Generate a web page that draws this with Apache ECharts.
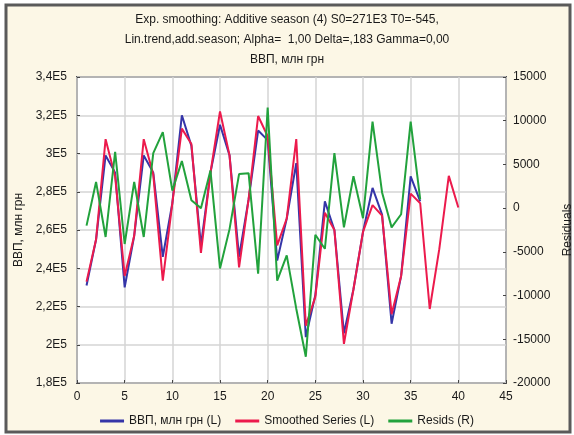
<!DOCTYPE html>
<html>
<head>
<meta charset="utf-8">
<script src="https://cdn.jsdelivr.net/npm/echarts@6/dist/echarts.min.js"></script>
<style>
html,body{margin:0;padding:0;background:#fff;}
#c{width:574px;height:435px;}
</style>
</head>
<body>
<div id="c"></div>
<script>
const titleLines = [
  'Exp. smoothing: Additive season (4) S0=271E3 T0=-545,',
  'Lin.trend,add.season; Alpha=  1,00 Delta=,183 Gamma=0,00',
  'ВВП, млн грн'
];
const seriesNames = ['ВВП, млн грн (L)', 'Smoothed Series (L)', 'Resids (R)'];
const leftAxisName = 'ВВП, млн грн';
const rightAxisName = 'Residuals';
const leftTicks = ['1,8E5','2E5','2,2E5','2,4E5','2,6E5','2,8E5','3E5','3,2E5','3,4E5'];

const gdp = [231000,255000,299000,290000,230000,257000,299000,290000,246000,274000,
  320000,304000,252000,290000,315000,299000,246000,276000,312000,307000,
  244000,266000,295000,204000,226000,275000,260000,206000,229000,259000,
  282000,268000,211000,236000,288000,275000];
const smoothed = [233000,255000,307500,288000,236000,257000,307500,289000,233500,274000,
  313000,305000,248000,290000,322000,299000,240500,276000,319600,309000,
  252000,266000,307500,210000,225000,269000,260000,200500,229000,259000,
  273000,267500,216000,236000,279000,274000,218700,250000,288300,271800];
const resids = [-2000,3000,-3300,6450,-4100,3000,-3300,6300,8700,2000,
  5400,900,0,4300,-6900,-2400,3900,4000,-7500,11500,
  -8300,-5400,-11500,-17000,-3050,-4650,6300,-2200,3650,-1150,
  9900,1800,-2200,-700,9900,1000];

const toPairs = arr => arr.map((v, i) => [i + 1, v]);

const chart = echarts.init(document.getElementById('c'), null, {renderer: 'canvas'});
const font = "'Liberation Sans', Arial, sans-serif";
const txt = '#1a1a1a';

chart.setOption({
  backgroundColor: '#fff',
  animation: false,
  graphic: [{
    type: 'rect', z: -10, silent: true,
    shape: {x: 6, y: 5, width: 564, height: 427},
    style: {fill: '#fcf7e6', stroke: '#5a5a5a', lineWidth: 3}
  }],
  title: titleLines.map((t, i) => ({
    text: t, left: 'center', top: 9 + i * 20,
    textStyle: {fontFamily: font, fontSize: 12, fontWeight: 'normal', color: txt}
  })),
  legend: {
    bottom: 3, left: 'center',
    icon: 'rect', itemWidth: 24, itemHeight: 3, itemGap: 14,
    textStyle: {fontFamily: font, fontSize: 12, color: txt},
    data: seriesNames
  },
  grid: {
    left: 77, top: 77, width: 429, height: 306,
    outerBoundsMode: 'none', containLabel: false,
    show: true, backgroundColor: '#fff', borderColor: '#555', borderWidth: 2
  },
  xAxis: {
    type: 'value', min: 0, max: 45, interval: 5,
    axisLine: {show: false, onZero: false},
    axisTick: {show: true, inside: true, length: 3, lineStyle: {color: '#444'}},
    axisLabel: {fontFamily: font, fontSize: 12, color: txt, margin: 8},
    splitLine: {show: true, lineStyle: {color: '#d4d4d4', width: 1.5}}
  },
  yAxis: [{
    type: 'value', min: 180000, max: 340000, interval: 20000,
    name: leftAxisName, nameLocation: 'middle', nameGap: 52, nameRotate: 90,
    nameTextStyle: {fontFamily: font, fontSize: 12, color: txt},
    axisLine: {show: false},
    axisTick: {show: true, inside: true, length: 3, lineStyle: {color: '#444'}},
    axisLabel: {fontFamily: font, fontSize: 12, color: txt, margin: 10,
      formatter: v => leftTicks[Math.round((v - 180000) / 20000)]},
    splitLine: {show: true, lineStyle: {color: '#d4d4d4', width: 1.5}}
  }, {
    type: 'value', min: -20000, max: 15000, interval: 5000, position: 'right',
    name: rightAxisName, nameLocation: 'middle', nameGap: 52, nameRotate: 90,
    nameTextStyle: {fontFamily: font, fontSize: 12, color: txt},
    axisLine: {show: false},
    axisTick: {show: true, inside: true, length: 3, lineStyle: {color: '#444'}},
    axisLabel: {fontFamily: font, fontSize: 12, color: txt, margin: 7,
      formatter: v => String(v)},
    splitLine: {show: false}
  }],
  series: [{
    name: seriesNames[0], type: 'line', yAxisIndex: 0, data: toPairs(gdp),
    symbol: 'none', lineStyle: {color: '#3535a8', width: 2}, itemStyle: {color: '#3535a8'}
  }, {
    name: seriesNames[1], type: 'line', yAxisIndex: 0, data: toPairs(smoothed),
    symbol: 'none', lineStyle: {color: '#ec1a4c', width: 2}, itemStyle: {color: '#ec1a4c'}
  }, {
    name: seriesNames[2], type: 'line', yAxisIndex: 1, data: toPairs(resids),
    symbol: 'none', lineStyle: {color: '#22a23c', width: 2}, itemStyle: {color: '#22a23c'}
  }]
});
</script>
</body>
</html>
